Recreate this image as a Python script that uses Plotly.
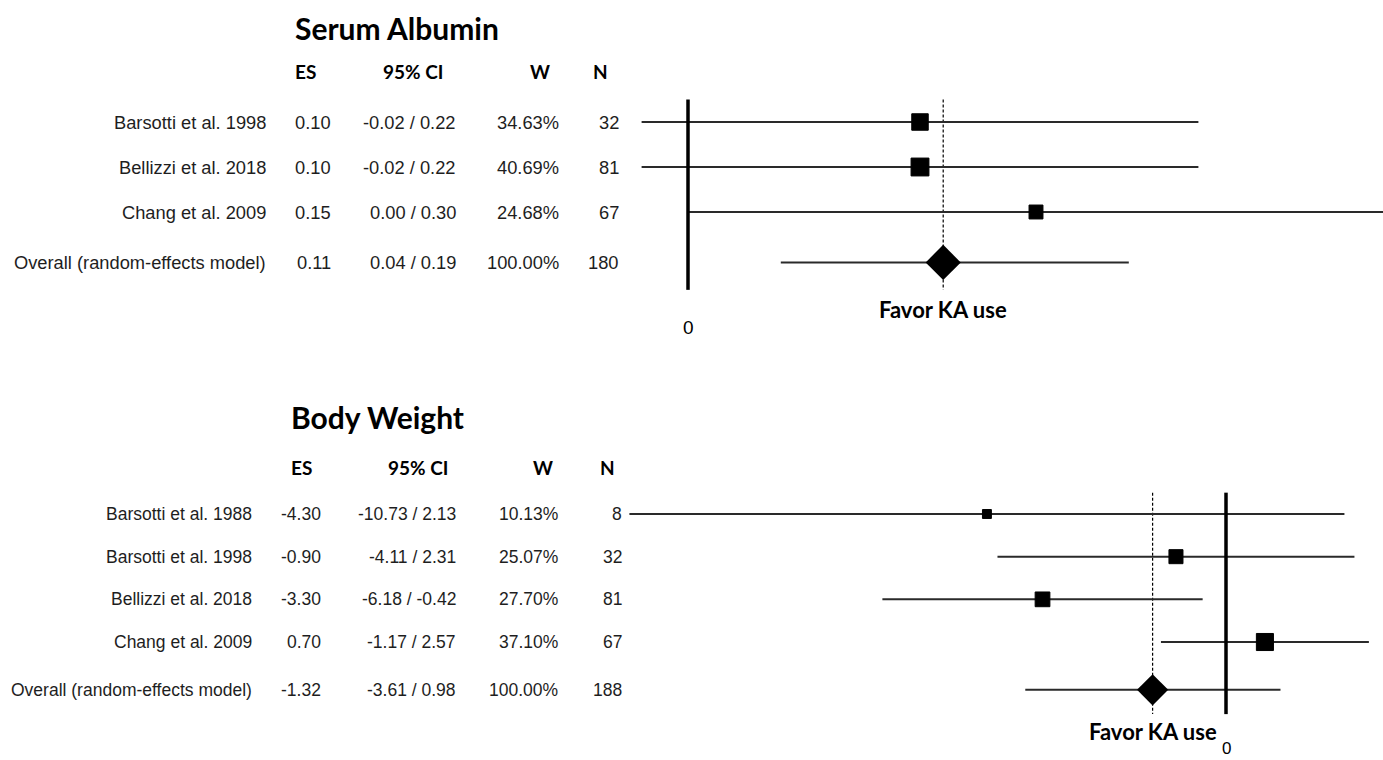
import math
import plotly.graph_objects as go

W, H = 1383, 760

# ---------------- data: Serum Albumin ----------------
sa_studies = ["Barsotti et al. 1998", "Bellizzi et al. 2018", "Chang et al. 2009"]
sa_es = [0.10, 0.10, 0.15]
sa_lo = [-0.02, -0.02, 0.00]
sa_hi = [0.22, 0.22, 0.30]
sa_w = [34.63, 40.69, 24.68]
sa_n = [32, 81, 67]
sa_ov_label = "Overall (random-effects model)"
sa_ov_es, sa_ov_lo, sa_ov_hi, sa_ov_w, sa_ov_n = 0.11, 0.04, 0.19, 100.00, 180

# ---------------- data: Body Weight ----------------
bw_studies = ["Barsotti et al. 1988", "Barsotti et al. 1998", "Bellizzi et al. 2018", "Chang et al. 2009"]
bw_es = [-4.30, -0.90, -3.30, 0.70]
bw_lo = [-10.73, -4.11, -6.18, -1.17]
bw_hi = [2.13, 2.31, -0.42, 2.57]
bw_w = [10.13, 25.07, 27.70, 37.10]
bw_n = [8, 32, 81, 67]
bw_ov_label = "Overall (random-effects model)"
bw_ov_es, bw_ov_lo, bw_ov_hi, bw_ov_w, bw_ov_n = -1.32, -3.61, 0.98, 100.00, 188

headers = ["ES", "95% CI", "W", "N"]
favor_text = "Favor KA use"
zero_text = "0"


def px(x):
    return x / W


def py(y):
    return 1 - y / H


LABEL_FONT = "Liberation Sans, Arial, sans-serif"
BOLD_FONT = "Lato, Open Sans, sans-serif"
TXT = "#1e1e1e"

fig = go.Figure()
annotations = []
shapes = []


def add_panel(k, title, studies, es, lo, hi, w, n, ov_label, ov_es, ov_lo, ov_hi, ov_w, ov_n, cfg):
    xa = "x" if k == 1 else "x2"
    ya = "y" if k == 1 else "y2"
    nst = len(studies)
    rows = list(range(nst))
    ov_row = nst + 0.12

    sizes = [2.8 * math.sqrt(v) for v in w]
    fig.add_trace(go.Scatter(
        x=es, y=rows, xaxis=xa, yaxis=ya, mode="markers",
        marker=dict(symbol="square", size=sizes, color="black", opacity=1,
                    line=dict(width=1, color="black")),
        error_x=dict(type="data", symmetric=False,
                     array=[h - e for h, e in zip(hi, es)],
                     arrayminus=[e - l for e, l in zip(es, lo)],
                     width=0, thickness=2, color="#2a2a2a"),
        showlegend=False, hoverinfo="skip", cliponaxis=False,
    ))
    fig.add_trace(go.Scatter(
        x=[ov_es], y=[ov_row], xaxis=xa, yaxis=ya, mode="markers",
        marker=dict(symbol="diamond", size=cfg["dsize"], color="black", opacity=1,
                    line=dict(width=0)),
        error_x=dict(type="data", symmetric=False, array=[ov_hi - ov_es],
                     arrayminus=[ov_es - ov_lo], width=0, thickness=2, color="#2a2a2a"),
        showlegend=False, hoverinfo="skip", cliponaxis=False,
    ))

    # zero line and overall dashed line
    shapes.append(dict(type="line", xref=xa, yref=ya, x0=0, x1=0,
                       y0=cfg["vy0"], y1=cfg["vy1"], line=dict(color="black", width=3.5), layer="above"))
    shapes.append(dict(type="line", xref=xa, yref=ya, x0=ov_es, x1=ov_es,
                       y0=cfg["vy0"], y1=cfg["vy1"], line=dict(color="black", width=1.2, dash="3px,2px"),
                       layer="below"))

    # title
    annotations.append(dict(text="<b>%s</b>" % title, xref="paper", yref="paper",
                            x=px(cfg["title_x"]), y=py(cfg["title_y"]), xanchor="left", yanchor="middle",
                            showarrow=False, font=dict(family=BOLD_FONT, size=cfg["title_size"], color="black")))
    # headers
    for htxt, hx in zip(headers, cfg["head_x"]):
        annotations.append(dict(text="<b>%s</b>" % htxt, xref="paper", yref="paper",
                                x=px(hx), y=py(cfg["head_y"]), xanchor="center", yanchor="middle",
                                showarrow=False, font=dict(family=BOLD_FONT, size=19, color="black")))
    # row texts
    all_labels = studies + [ov_label]
    all_es = es + [ov_es]
    all_lo = lo + [ov_lo]
    all_hi = hi + [ov_hi]
    all_w = w + [ov_w]
    all_n = n + [ov_n]
    all_rows = rows + [ov_row]
    for lab, e, l, h, ww, nn, r in zip(all_labels, all_es, all_lo, all_hi, all_w, all_n, all_rows):
        cols = [lab, "%.2f" % e, "%.2f / %.2f" % (l, h), "%.2f%%" % ww, "%d" % nn]
        for txt, cx in zip(cols, cfg["col_x"]):
            annotations.append(dict(text=txt, xref="paper", yref=ya, x=px(cx), y=r,
                                    xanchor="right", yanchor="middle", showarrow=False,
                                    font=dict(family=LABEL_FONT, size=cfg["fsize"], color=TXT)))
    # favor label and zero label
    annotations.append(dict(text="<b>%s</b>" % favor_text, xref=xa, yref="paper", x=ov_es,
                            y=py(cfg["favor_y"]), xanchor="center", yanchor="middle", showarrow=False,
                            font=dict(family=BOLD_FONT, size=22, color="black")))
    annotations.append(dict(text=zero_text, xref=xa, yref="paper", x=0, y=py(cfg["zero_y"]),
                            xanchor="center", yanchor="middle", showarrow=False,
                            font=dict(family=LABEL_FONT, size=cfg["zsize"], color="black")))


cfg_top = dict(dsize=27, vy0=-0.5, vy1=3.73, title_x=293, title_y=28, title_size=30,
               head_x=[305, 413, 540, 600], head_y=71,
               col_x=[268, 333, 458, 561, 621], fsize=18.3, favor_y=309, zero_y=327, zsize=19)
cfg_bot = dict(dsize=24, vy0=-0.5, vy1=4.69, title_x=289, title_y=417, title_size=30,
               head_x=[301, 418, 543, 607], head_y=467,
               col_x=[254, 323, 458, 560, 624], fsize=17.5, favor_y=731, zero_y=748, zsize=17)

add_panel(1, "Serum Albumin", sa_studies, sa_es, sa_lo, sa_hi, sa_w, sa_n,
          sa_ov_label, sa_ov_es, sa_ov_lo, sa_ov_hi, sa_ov_w, sa_ov_n, cfg_top)
add_panel(2, "Body Weight", bw_studies, bw_es, bw_lo, bw_hi, bw_w, bw_n,
          bw_ov_label, bw_ov_es, bw_ov_lo, bw_ov_hi, bw_ov_w, bw_ov_n, cfg_bot)

# axis geometry (pixel-based layout)
x_dom = [px(600), 1.0]
top_zero, top_scale = 688, 2320.0
bot_zero, bot_scale = 1226, 55.6
top_row0, top_step = 122, 45.0
bot_row0, bot_step = 514, 42.67


def yrange(row0, step, ytop, ybot):
    return [(ybot - row0) / step, (ytop - row0) / step]


axis_common = dict(visible=False, showgrid=False, zeroline=False, fixedrange=True)
fig.update_layout(
    width=W, height=H, margin=dict(l=0, r=0, t=0, b=0),
    paper_bgcolor="white", plot_bgcolor="white",
    xaxis=dict(domain=x_dom, range=[(600 - top_zero) / top_scale, (W - top_zero) / top_scale],
               anchor="y", **axis_common),
    yaxis=dict(domain=[py(340), py(80)], range=yrange(top_row0, top_step, 80, 340),
               anchor="x", **axis_common),
    xaxis2=dict(domain=x_dom, range=[(600 - bot_zero) / bot_scale, (W - bot_zero) / bot_scale],
                anchor="y2", **axis_common),
    yaxis2=dict(domain=[py(760), py(470)], range=yrange(bot_row0, bot_step, 470, 760),
                anchor="x2", **axis_common),
    annotations=annotations, shapes=shapes,
)

fig.write_html("out.html", config={"displayModeBar": False},
               post_script="document.body.style.margin='0';document.body.style.overflow='hidden';")
